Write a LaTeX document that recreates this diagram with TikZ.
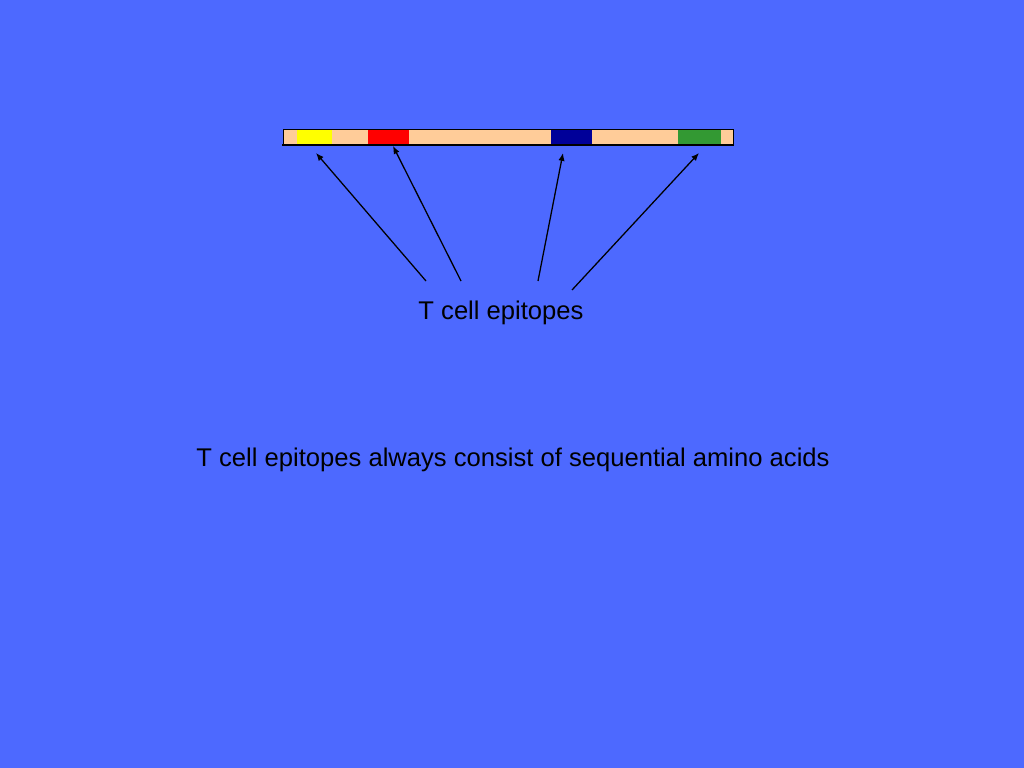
\documentclass[tikz,border=0pt]{standalone}
\usepackage{fontspec}
\setmainfont{Liberation Sans}
\usetikzlibrary{arrows.meta}
\definecolor{slideblue}{RGB}{77,105,255}
\definecolor{peach}{RGB}{255,204,153}
\definecolor{epiyellow}{RGB}{255,255,0}
\definecolor{epired}{RGB}{255,0,0}
\definecolor{epiblue}{RGB}{0,0,153}
\definecolor{epigreen}{RGB}{51,153,51}
\tikzset{label/.style={font=\fontsize{18}{21}\selectfont, inner sep=0pt, anchor=base}}
\begin{document}
\begin{tikzpicture}[x=0.703125pt, y=-0.703125pt, >={Latex[length=5.5pt,width=4.5pt]}]
\fill[slideblue] (0,0) rectangle (1024,768);
\fill[peach] (283,129) rectangle (733,145);
\fill[epiyellow] (297,129) rectangle (332,145);
\fill[epired] (368,129) rectangle (409,145);
\fill[epiblue] (551,129) rectangle (592,145);
\fill[epigreen] (678,129) rectangle (721,145);
\draw[line width=0.6pt] (283,129) rectangle (733,145);
\draw[line width=1.4pt] (282,145)--(734,145);
\coordinate (yel) at (316,153);
\coordinate (red) at (393,146);
\coordinate (blu) at (563,153);
\coordinate (grn) at (699,153);
\node[label] (epi) at (501,320) {T cell epitopes};
\coordinate (s1) at (426,281);
\coordinate (s2) at (461,281);
\coordinate (s3) at (538,281);
\coordinate (s4) at (572,290);
\draw [->, line width=0.9pt] (s1)--(yel);
\draw [->, line width=0.9pt] (s2)--(red);
\draw [->, line width=0.9pt] (s3)--(blu);
\draw [->, line width=0.9pt] (s4)--(grn);
\node[label] (seq) at (513,466) {T cell epitopes always consist of sequential amino acids};
\end{tikzpicture}
\end{document}
